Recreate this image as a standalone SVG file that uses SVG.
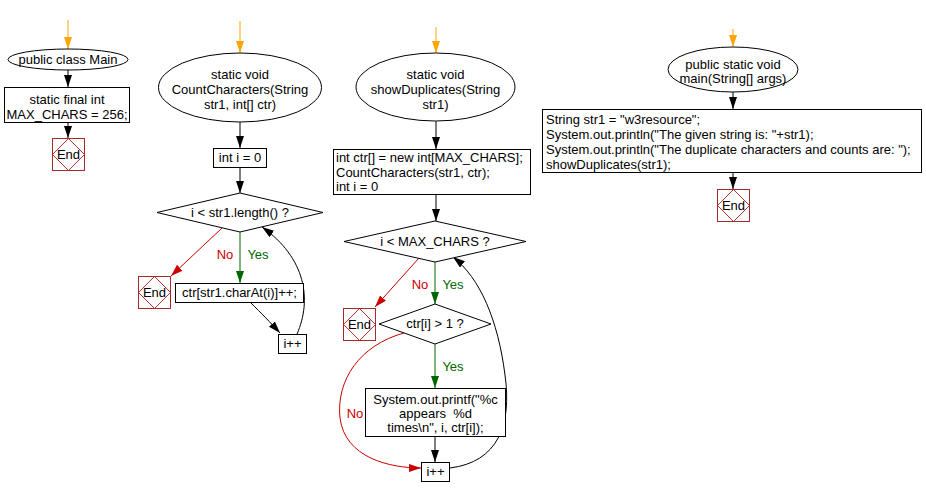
<svg xmlns="http://www.w3.org/2000/svg" width="926" height="497" viewBox="0 0 926 497">
<defs>
<marker id="ab" markerUnits="userSpaceOnUse" markerWidth="14" markerHeight="10" refX="12" refY="4" orient="auto"><path d="M0,0 L12,4 L0,8 Z" fill="#000"/></marker>
<marker id="ao" markerUnits="userSpaceOnUse" markerWidth="14" markerHeight="10" refX="12" refY="4" orient="auto"><path d="M0,0 L12,4 L0,8 Z" fill="#FFA500"/></marker>
<marker id="ag" markerUnits="userSpaceOnUse" markerWidth="14" markerHeight="10" refX="12" refY="4" orient="auto"><path d="M0,0 L12,4 L0,8 Z" fill="#006600"/></marker>
<marker id="ar" markerUnits="userSpaceOnUse" markerWidth="14" markerHeight="10" refX="12" refY="4" orient="auto"><path d="M0,0 L12,4 L0,8 Z" fill="#CC0000"/></marker>
</defs>
<style>
text{font-family:"Liberation Sans",Arial,sans-serif;font-size:13px;fill:#000;white-space:pre}
.c{text-anchor:middle}
.shape{fill:#fff;stroke:#000;stroke-width:1}
.endb{fill:#fff;stroke:#A52A2A;stroke-width:1}
.endd{fill:none;stroke:#C03030;stroke-width:1}
.k{stroke:#000;fill:none;stroke-width:1;marker-end:url(#ab)}
.o{stroke:#FFA500;fill:none;stroke-width:1;marker-end:url(#ao)}
.g{stroke:#006600;fill:none;stroke-width:1;marker-end:url(#ag)}
.r{stroke:#CC0000;fill:none;stroke-width:1;marker-end:url(#ar)}
.lr{fill:#CC0000}
.lg{fill:#006600}
</style>
<rect width="926" height="497" fill="#fff"/>
<g id="connectors">
<line class="o" x1="68" y1="20" x2="68" y2="49"/>
<line class="k" x1="68" y1="70" x2="68" y2="87"/>
<line class="k" x1="68" y1="123" x2="68" y2="138"/>
<line class="o" x1="240" y1="21" x2="240" y2="53"/>
<line class="k" x1="240" y1="122" x2="240" y2="148"/>
<line class="k" x1="240" y1="167" x2="240" y2="193"/>
<line class="r" x1="222" y1="228" x2="171" y2="276"/>
<line class="g" x1="240" y1="232" x2="240" y2="283"/>
<path class="k" d="M250,302 C262,314 270,322 280,333"/>
<path class="k" d="M297,334 C312,300 306,258 262,227"/>
<line class="o" x1="436" y1="27" x2="436" y2="53"/>
<line class="k" x1="436" y1="121" x2="436" y2="149"/>
<line class="k" x1="436" y1="195" x2="436" y2="221"/>
<line class="r" x1="419" y1="258" x2="375" y2="307"/>
<line class="g" x1="435" y1="262" x2="435" y2="304"/>
<line class="g" x1="435" y1="344" x2="435" y2="388"/>
<line class="k" x1="435" y1="437" x2="435" y2="462"/>
<path class="r" d="M404,333 C360,345 336,380 340,418 C345,458 390,468 421,468"/>
<path class="k" d="M450,468 C498,462 512,425 505,375 C498,320 480,278 453,257"/>
<line class="o" x1="733" y1="29" x2="733" y2="47"/>
<line class="k" x1="733" y1="92" x2="733" y2="109"/>
<line class="k" x1="733" y1="173" x2="733" y2="189"/>
</g>
<g id="labels">
<text class="c lr" x="225" y="259">No</text>
<text class="c lg" x="258" y="259">Yes</text>
<text class="c lr" x="420" y="289">No</text>
<text class="c lg" x="453" y="289">Yes</text>
<text class="c lg" x="453" y="371">Yes</text>
<text class="c lr" x="355" y="418">No</text>
</g>
<g id="main-class">
<ellipse class="shape" cx="68" cy="59.5" rx="60" ry="10.5"/>
<text class="c" x="68" y="64">public class Main</text>
</g>
<g id="max-chars">
<rect class="shape" x="4.5" y="87.5" width="125" height="35"/>
<text class="c" x="67" y="104">static final int</text>
<text class="c" x="67" y="119">MAX_CHARS = 256;</text>
</g>
<g id="end1">
<rect class="endb" x="52.5" y="138.5" width="32" height="32"/>
<path class="endd" d="M68.5,138.5 L84.5,154.5 L68.5,170.5 L52.5,154.5 Z"/>
<text class="c" x="68.5" y="159">End</text>
</g>
<g id="count-fn">
<ellipse class="shape" cx="240" cy="87.5" rx="81.5" ry="34.5"/>
<text class="c" x="240" y="79">static void</text>
<text class="c" x="240" y="94">CountCharacters(String</text>
<text class="c" x="240" y="109">str1, int[] ctr)</text>
</g>
<g id="count-init">
<rect class="shape" x="213.5" y="148.5" width="53" height="19"/>
<text class="c" x="240" y="162">int i = 0</text>
</g>
<g id="count-cond">
<path class="shape" d="M157,212.5 L240,193 L323,212.5 L240,232 Z"/>
<text class="c" x="240" y="217">i &lt; str1.length() ?</text>
</g>
<g id="end2">
<rect class="endb" x="138.5" y="276.5" width="32" height="32"/>
<path class="endd" d="M154.5,276.5 L170.5,292.5 L154.5,308.5 L138.5,292.5 Z"/>
<text class="c" x="154.5" y="297">End</text>
</g>
<g id="count-inc">
<rect class="shape" x="175.5" y="283.5" width="128" height="19"/>
<text class="c" x="239.5" y="297">ctr[str1.charAt(i)]++;</text>
</g>
<g id="count-ipp">
<rect class="shape" x="278.5" y="334.5" width="28" height="19"/>
<text class="c" x="292.5" y="348">i++</text>
</g>
<g id="dup-fn">
<ellipse class="shape" cx="435.5" cy="87" rx="79.5" ry="34"/>
<text class="c" x="435.5" y="79">static void</text>
<text class="c" x="435.5" y="94">showDuplicates(String</text>
<text class="c" x="435.5" y="109">str1)</text>
</g>
<g id="dup-init">
<rect class="shape" x="333.5" y="149.5" width="197" height="45"/>
<text x="336" y="162">int ctr[] = new int[MAX_CHARS];</text>
<text x="336" y="177">CountCharacters(str1, ctr);</text>
<text x="336" y="191">int i = 0</text>
</g>
<g id="dup-cond">
<path class="shape" d="M344,241.5 L435,221 L526,241.5 L435,262 Z"/>
<text class="c" x="435" y="246">i &lt; MAX_CHARS ?</text>
</g>
<g id="end3">
<rect class="endb" x="343.5" y="308.5" width="32" height="32"/>
<path class="endd" d="M359.5,308.5 L375.5,324.5 L359.5,340.5 L343.5,324.5 Z"/>
<text class="c" x="359.5" y="329">End</text>
</g>
<g id="dup-check">
<path class="shape" d="M379,324 L435,304 L491,324 L435,344 Z"/>
<text class="c" x="435" y="328">ctr[i] &gt; 1 ?</text>
</g>
<g id="dup-print">
<rect class="shape" x="365.5" y="388.5" width="140" height="48"/>
<text class="c" x="435.5" y="404">System.out.printf("%c</text>
<text class="c" x="435.5" y="418">appears  %d</text>
<text class="c" x="435.5" y="432">times\n", i, ctr[i]);</text>
</g>
<g id="dup-ipp">
<rect class="shape" x="421.5" y="462.5" width="28" height="19"/>
<text class="c" x="435.5" y="476">i++</text>
</g>
<g id="main-fn">
<ellipse class="shape" cx="733" cy="69.5" rx="65" ry="22.5"/>
<text class="c" x="733" y="69">public static void</text>
<text class="c" x="733" y="83">main(String[] args)</text>
</g>
<g id="main-body">
<rect class="shape" x="542.5" y="109.5" width="379" height="63"/>
<text x="546" y="124">String str1 = "w3resource";</text>
<text x="546" y="139">System.out.println("The given string is: "+str1);</text>
<text x="546" y="154">System.out.println("The duplicate characters and counts are: ");</text>
<text x="546" y="169">showDuplicates(str1);</text>
</g>
<g id="end4">
<rect class="endb" x="717.5" y="189.5" width="32" height="32"/>
<path class="endd" d="M733.5,189.5 L749.5,205.5 L733.5,221.5 L717.5,205.5 Z"/>
<text class="c" x="733.5" y="210">End</text>
</g>
</svg>
